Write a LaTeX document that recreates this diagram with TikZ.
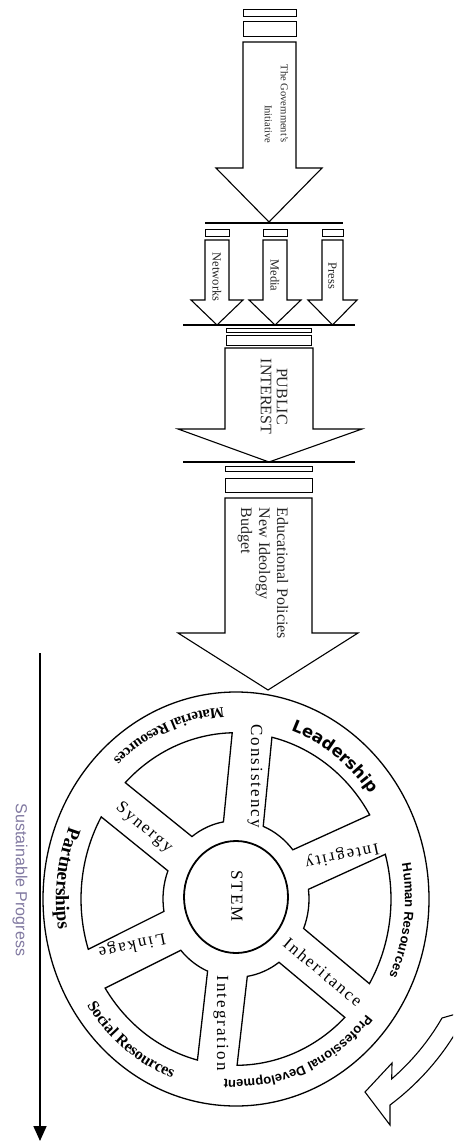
\documentclass[tikz,border=0pt]{standalone}
\usepackage{fontspec}
\setmainfont{Liberation Serif}
\setsansfont{Liberation Sans}
\newfontfamily\spokefont[LetterSpace=12.0]{Liberation Serif}
\newfontfamily\heavyfont{DejaVu Sans}
\usepackage{xcolor}
\usepackage{tikz}
\usetikzlibrary{arrows.meta}
\usetikzlibrary{decorations.text}
\usetikzlibrary{calc}

\definecolor{progress}{RGB}{128,120,160}

\newcommand\leadfmt{\heavyfont\bfseries\fontsize{16.5}{18}\selectfont}
\newcommand\rimsansfmt{\sffamily\bfseries\fontsize{13}{15}\selectfont}
\newcommand\rimseriffmt{\rmfamily\bfseries\fontsize{16}{18}\selectfont}
\newcommand\partfmt{\rmfamily\bfseries\fontsize{19}{21}\selectfont}
\newcommand\matfmt{\rmfamily\bfseries\fontsize{15}{17}\selectfont}

\tikzset{
  blockarrow/.style={draw=black, line width=1.1pt, fill=white, line join=miter},
  barline/.style={line width=2.4pt},
  thinbox/.style={line width=1pt},
  wheelline/.style={line width=1.3pt},
  arrowtext/.style={inner sep=0.75pt, rotate=-90, text=black!85},
  spoketext/.style={inner sep=0.75pt, font=\spokefont\fontsize{17}{19}\selectfont},
  rimtext/.style={decorate, decoration={text along path, text align=center, text={#1}}},
}

\begin{document}
\begin{tikzpicture}[x=1pt,y=1pt,yscale=-1,xscale=1]
\useasboundingbox (0,0) rectangle (453,1142);

%Shape: Rectangle [top bars]
\draw [thinbox] (243,10) rectangle (296,17) ;
\draw [thinbox] (243,22) rectangle (296,37) ;
%Shape: Block Arrow [initiative]
\draw [blockarrow] (243,42) -- (243,168) -- (216,168) -- (269,222) -- (322,168) -- (296,168) -- (296,42) -- cycle ;
%Straight Lines [upper bar]
\draw [barline] (205,223) -- (343,223) ;

%Shape: Rectangle [small bars]
\draw [thinbox] (205,229) rectangle (229,236) ;
\draw [thinbox] (263,229) rectangle (287,236) ;
\draw [thinbox] (322,229) rectangle (343,236) ;
%Shape: Block Arrow [networks]
\draw [blockarrow] (205,240) -- (205,300) -- (191,300) -- (217,325) -- (243,300) -- (229,300) -- (229,240) -- cycle ;
%Shape: Block Arrow [media]
\draw [blockarrow] (263,240) -- (263,300) -- (249,300) -- (275,325) -- (301,300) -- (287,300) -- (287,240) -- cycle ;
%Shape: Block Arrow [press]
\draw [blockarrow] (322,240) -- (322,300) -- (308,300) -- (332.5,325) -- (357,300) -- (343,300) -- (343,240) -- cycle ;
%Straight Lines [middle bar]
\draw [barline] (183,325) -- (355,325) ;

%Shape: Rectangle [public bars]
\draw [thinbox] (226,328.5) rectangle (311,332) ;
\draw [thinbox] (226,335) rectangle (311,345) ;
%Shape: Block Arrow [public interest]
\draw [blockarrow] (225,348) -- (225,429) -- (178,429) -- (269,462) -- (362,429) -- (313,429) -- (313,348) -- cycle ;
%Straight Lines [lower bar]
\draw [barline] (183,462) -- (355,462) ;

%Shape: Rectangle [policy bars]
\draw [thinbox] (225,466) rectangle (312,471) ;
\draw [thinbox] (225,478) rectangle (312,492) ;
%Shape: Block Arrow [policies]
\draw [blockarrow] (225,498) -- (225,633) -- (178,633) -- (268,690) -- (358,633) -- (312,633) -- (312,498) -- cycle ;

% Text Node
\draw (276.5,144) node (govtext) [arrowtext, anchor=east, align=right, font=\fontsize{10.5}{16}\selectfont] {The Government's\\Initiative};
% Text Node
\draw (217,277) node (nettext) [arrowtext, font=\fontsize{12.5}{15}\selectfont] {Networks};
% Text Node
\draw (275,275.5) node (mediatext) [arrowtext, font=\fontsize{12.5}{15}\selectfont] {Media};
% Text Node
\draw (332.5,276) node (presstext) [arrowtext, font=\fontsize{12.5}{15}\selectfont] {Press};
% Text Node
\draw (274,396.5) node (pubtext) [arrowtext, align=center, font=\fontsize{16}{16}\selectfont] {PUBLIC\\INTEREST};
% Text Node
\draw (263,507) node (edutext) [arrowtext, anchor=west, align=left, font=\fontsize{16}{18}\selectfont] {Educational Policies\\New Ideology\\Budget};

%Wheel
\begin{scope}[shift={(236,899)}, yscale=-1]
%Shape: Ellipse [rim]
\draw [wheelline] (0,0) ellipse [x radius=193, y radius=207] ;
%Shape: Ellipse [hub]
\draw [line width=1.8pt] (0,2) ellipse [x radius=52, y radius=56] ;
%Shape: Cell [leadership]
\draw [wheelline] (30.4:155 and 166.3) arc [start angle=30.4, end angle=76.6, x radius=155, y radius=166.3] -- (68.1:73 and 78.3) arc [start angle=68.1, end angle=38.9, x radius=73, y radius=78.3] -- cycle ;
%Shape: Cell [human resources]
\draw [wheelline] (-30.6:155 and 166.3) arc [start angle=-30.6, end angle=15.6, x radius=155, y radius=166.3] -- (7.1:73 and 78.3) arc [start angle=7.1, end angle=-22.1, x radius=73, y radius=78.3] -- cycle ;
%Shape: Cell [development]
\draw [wheelline] (-89.6:155 and 166.3) arc [start angle=-89.6, end angle=-45.4, x radius=155, y radius=166.3] -- (-53.9:73 and 78.3) arc [start angle=-53.9, end angle=-81.1, x radius=73, y radius=78.3] -- cycle ;
%Shape: Cell [social resources]
\draw [wheelline] (-147.6:155 and 166.3) arc [start angle=-147.6, end angle=-104.4, x radius=155, y radius=166.3] -- (-112.9:73 and 78.3) arc [start angle=-112.9, end angle=-139.1, x radius=73, y radius=78.3] -- cycle ;
%Shape: Cell [partnerships]
\draw [wheelline] (150.4:155 and 166.3) arc [start angle=150.4, end angle=197.6, x radius=155, y radius=166.3] -- (189.1:73 and 78.3) arc [start angle=189.1, end angle=158.9, x radius=73, y radius=78.3] -- cycle ;
%Shape: Cell [material resources]
\draw [wheelline] (91.4:155 and 166.3) arc [start angle=91.4, end angle=135.6, x radius=155, y radius=166.3] -- (127.1:73 and 78.3) arc [start angle=127.1, end angle=99.9, x radius=73, y radius=78.3] -- cycle ;

%Rim texts
\path [rimtext={|\leadfmt|Leadership}] (76:166 and 178) arc [start angle=76, end angle=31, x radius=166, y radius=178] ;
\path [rimtext={|\rimsansfmt|Human Resources}] (20:169 and 181) arc [start angle=20, end angle=-34, x radius=169, y radius=181] ;
\path [rimtext={|\rimsansfmt|Professional Development}] (-30:169 and 181) arc [start angle=-30, end angle=-104, x radius=169, y radius=181] ;
\path [rimtext={|\rimseriffmt|Social Resources}] (205:179 and 192) arc [start angle=205, end angle=258, x radius=179, y radius=192] ;
\path [rimtext={|\partfmt|Partnerships}] (148:180 and 193) arc [start angle=148, end angle=199, x radius=180, y radius=193] ;
\path [rimtext={|\matfmt|Material Resources}] (85:179 and 192) arc [start angle=85, end angle=142, x radius=179, y radius=192] ;
\end{scope}

% Text Node
\draw (237,896) node (stem) [spoketext, rotate=-90] {STEM};
% Text Node
\draw (255,776) node (consistency) [spoketext, rotate=-90] {Consistency};
% Text Node
\draw (342,855) node (integrity) [spoketext, rotate=192] {Integrity};
% Text Node
\draw (323,972) node (inheritance) [spoketext, rotate=-40] {Inheritance};
% Text Node
\draw (221,1023) node (integration) [spoketext, rotate=-90] {Integration};
% Text Node
\draw (132,945) node (linkage) [spoketext, rotate=192] {Linkage};
% Text Node
\draw (144,828) node (synergy) [spoketext, rotate=-40] {Synergy};

%Curved Arrow [turning]
\begin{scope}
\clip (0,0) rectangle (453,1142);
\draw [blockarrow] (470,1010) -- (442,1018) arc [start angle=30, end angle=49.1, radius=238] -- (392,1063) -- (365,1092) -- (390,1125) -- (390,1105) arc [start angle=53.2, end angle=26, radius=257] -- cycle ;
\end{scope}

%Straight Lines [progress]
\coordinate (progtop) at (40,653);
\coordinate (progend) at (40,1141);
\draw [line width=1.8pt, -{Triangle[length=15pt, width=13pt]}] (progtop) -- (progend) ;
% Text Node
\draw (20,880) node (progtext) [rotate=-90, inner sep=0.75pt, text=progress, font=\sffamily\fontsize{16}{18}\selectfont] {Sustainable Progress};

\end{tikzpicture}
\end{document}
